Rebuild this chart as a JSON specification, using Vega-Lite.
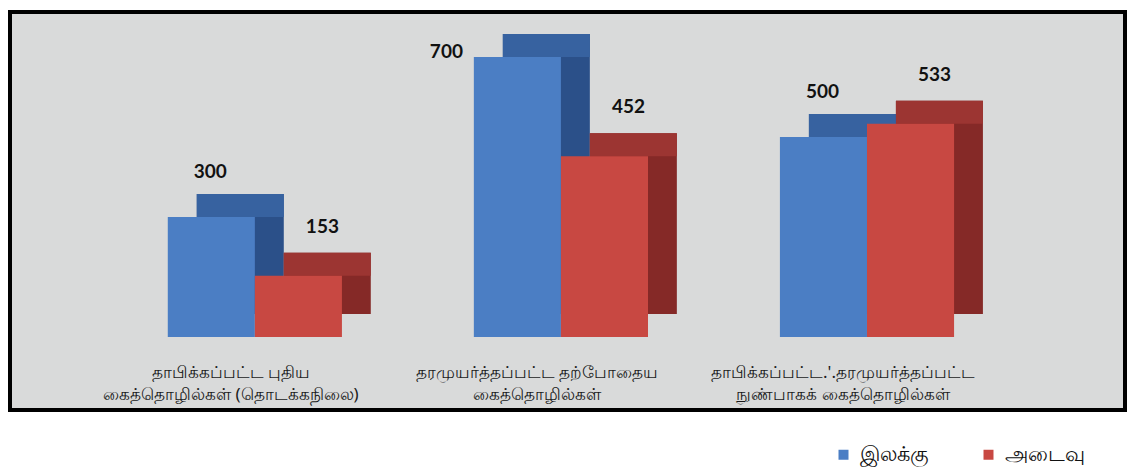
{
  "$schema": "https://vega.github.io/schema/vega-lite/v6.json",
  "width": 1115,
  "height": 398,
  "autosize": {"type": "none"},
  "padding": {"left": 10, "top": 12, "right": 12, "bottom": 59},
  "background": "white",
  "config": {
    "view": {"fill": "#d9dada", "stroke": "black", "strokeWidth": 4},
    "text": {"font": "Noto Sans"}
  },
  "data": {
    "values": [
      {"cat": "தாபிக்கப்பட்ட  புதிய|கைத்தொழில்கள்  (தொடக்கநிலை)", "series": "இலக்கு", "value": 300},
      {"cat": "தாபிக்கப்பட்ட  புதிய|கைத்தொழில்கள்  (தொடக்கநிலை)", "series": "அடைவு", "value": 153},
      {"cat": "தரமுயர்த்தப்பட்ட  தற்போதைய|கைத்தொழில்கள்", "series": "இலக்கு", "value": 700},
      {"cat": "தரமுயர்த்தப்பட்ட  தற்போதைய|கைத்தொழில்கள்", "series": "அடைவு", "value": 452},
      {"cat": "தாபிக்கப்பட்ட.'.தரமுயர்த்தப்பட்ட|நுண்பாகக்  கைத்தொழில்கள்", "series": "இலக்கு", "value": 500},
      {"cat": "தாபிக்கப்பட்ட.'.தரமுயர்த்தப்பட்ட|நுண்பாகக்  கைத்தொழில்கள்", "series": "அடைவு", "value": 533}
    ]
  },
  "encoding": {
    "x": {"field": "cat", "type": "nominal", "sort": null, "axis": null,
          "scale": {"paddingInner": 0.431, "paddingOuter": 0.537, "align": 0.48}}
  },
  "resolve": {"scale": {"xOffset": "independent"}},
  "layer": [
    {
      "layer": [
        {
          "mark": {"type": "bar", "yOffset": -23, "y2Offset": -23},
          "encoding": {
            "y": {"field": "value", "type": "quantitative", "axis": null, "scale": {"domain": [-182.5, 812.5], "nice": false, "zero": false}},
            "y2": {"datum": 0},
            "fill": {"condition": {"test": "datum.series === 'இலக்கு'", "value": "#2b5089"}, "value": "#852927"}
          }
        },
        {
          "mark": {"type": "bar", "yOffset": -23, "y2Offset": 0},
          "encoding": {
            "y": {"field": "value", "type": "quantitative"},
            "y2": {"field": "value"},
            "fill": {"condition": {"test": "datum.series === 'இலக்கு'", "value": "#3762a0"}, "value": "#9c3532"}
          }
        }
      ],
      "encoding": {
        "xOffset": {"field": "series", "type": "nominal", "sort": ["இலக்கு", "அடைவு"], "scale": {"range": [29, 203], "paddingInner": 0, "paddingOuter": 0}}
      }
    },
    {
      "layer": [
        {
          "mark": {"type": "bar"},
          "encoding": {
            "y": {"field": "value", "type": "quantitative"},
            "y2": {"datum": 0},
            "color": {
              "field": "series", "type": "nominal",
              "scale": {"domain": ["இலக்கு", "அடைவு"], "range": ["#4b7ec4", "#c84842"]},
              "legend": {
                "title": null, "orient": "none", "legendX": 823, "legendY": 432,
                "direction": "horizontal", "symbolType": "square", "symbolSize": 100,
                "symbolStrokeWidth": 0, "labelFontSize": 21, "labelFont": "Noto Sans",
                "labelColor": "#111111", "columnPadding": 49, "labelOffset": 6
              }
            }
          }
        },
        {
          "transform": [{"filter": "datum.series === 'இலக்கு' && datum.value < 700"}],
          "mark": {"type": "text", "dx": -1, "dy": -45, "fontSize": 19, "fontWeight": "bold", "font": "Lato", "color": "#111111", "baseline": "middle"},
          "encoding": {
            "y": {"field": "value", "type": "quantitative"},
            "text": {"field": "value", "type": "quantitative"}
          }
        },
        {
          "transform": [{"filter": "datum.series === 'அடைவு'"}],
          "mark": {"type": "text", "dx": 24, "dy": -49, "fontSize": 19, "fontWeight": "bold", "font": "Lato", "color": "#111111", "baseline": "middle"},
          "encoding": {
            "y": {"field": "value", "type": "quantitative"},
            "text": {"field": "value", "type": "quantitative"}
          }
        },
        {
          "transform": [{"filter": "datum.value >= 700"}],
          "mark": {"type": "text", "dx": -71, "dy": -5, "fontSize": 19, "fontWeight": "bold", "font": "Lato", "color": "#111111", "baseline": "middle"},
          "encoding": {
            "y": {"field": "value", "type": "quantitative"},
            "text": {"field": "value", "type": "quantitative"}
          }
        }
      ],
      "encoding": {
        "xOffset": {"field": "series", "type": "nominal", "sort": ["இலக்கு", "அடைவு"], "scale": {"paddingInner": 0, "paddingOuter": 0}}
      }
    },
    {
      "transform": [{"filter": "datum.series === 'இலக்கு'"}],
      "mark": {"type": "text", "lineBreak": "|", "baseline": "top", "align": "center", "dx": -24, "fontSize": 17, "lineHeight": 22, "color": "#1a1a1a", "font": "Noto Sans"},
      "encoding": {
        "y": {"datum": -70},
        "text": {"field": "cat", "type": "nominal"}
      }
    }
  ]
}
